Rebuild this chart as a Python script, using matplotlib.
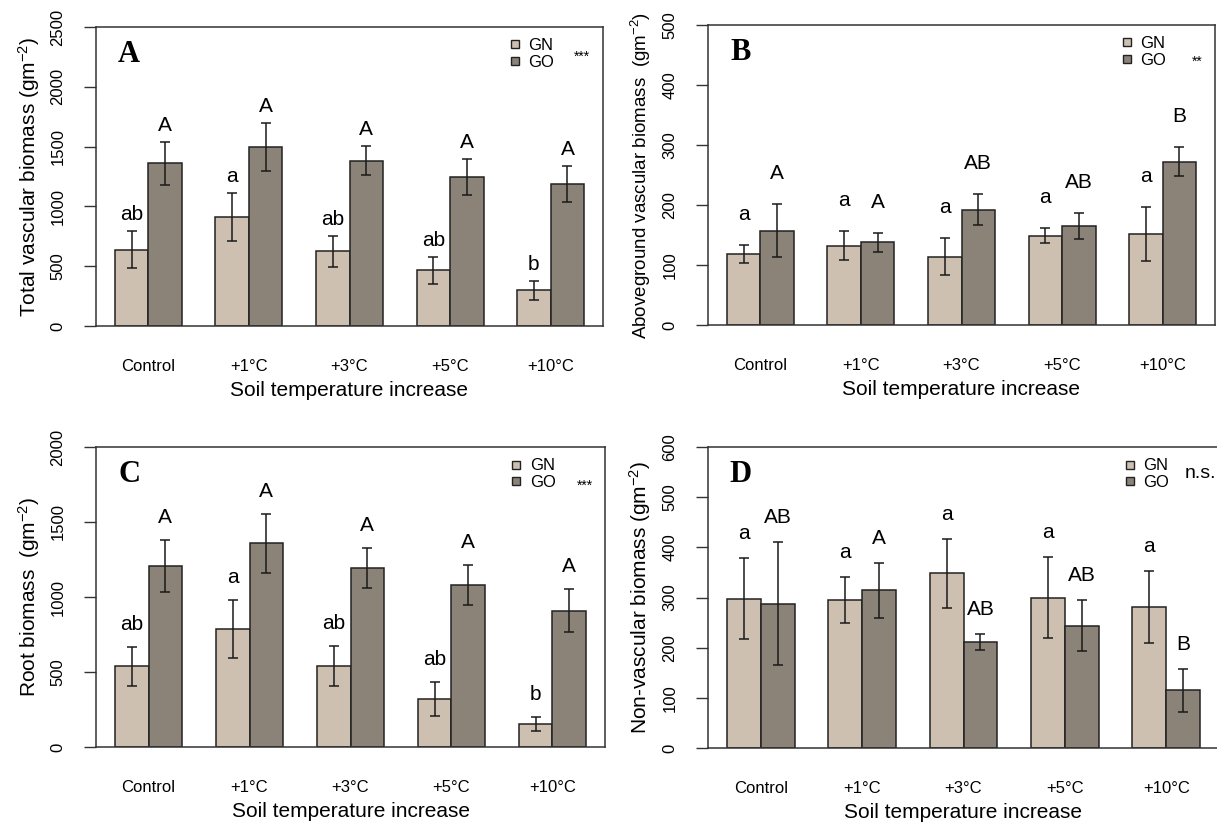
import numpy as np
import matplotlib
matplotlib.use("Agg")
import matplotlib.pyplot as plt
from matplotlib.lines import Line2D

plt.rcParams['font.family'] = ['Liberation Sans', 'DejaVu Sans']
plt.rcParams['mathtext.fontset'] = 'custom'
plt.rcParams['mathtext.rm'] = 'Liberation Sans'
plt.rcParams['mathtext.it'] = 'Liberation Sans:italic'
plt.rcParams['mathtext.default'] = 'regular'

# treatments and the two groups
treatments = ['Control', '+1°C', '+3°C', '+5°C', '+10°C']
groups = ['GN', 'GO']
col_gn = '#cdc0b0'
col_go = '#8b8378'

# A: total vascular biomass (g m-2), mean and SE
total_gn = [637, 913, 626, 466, 299]
total_gn_se = [155, 200, 130, 112, 78]
total_go = [1360, 1494, 1383, 1249, 1184]
total_go_se = [180, 200, 120, 150, 150]
total_gn_lab = ['ab', 'a', 'ab', 'ab', 'b']
total_go_lab = ['A', 'A', 'A', 'A', 'A']

# B: aboveground vascular biomass
above_gn = [119, 132, 114, 149, 152]
above_gn_se = [15, 24, 31, 13, 45]
above_go = [157, 138, 192, 165, 272]
above_go_se = [44, 16, 26, 22, 24]
above_gn_lab = ['a', 'a', 'a', 'a', 'a']
above_go_lab = ['A', 'A', 'AB', 'AB', 'B']

# C: root biomass
root_gn = [537, 785, 543, 321, 153]
root_gn_se = [130, 193, 133, 115, 44]
root_go = [1206, 1357, 1195, 1080, 909]
root_go_se = [175, 197, 133, 133, 142]
root_gn_lab = ['ab', 'a', 'ab', 'ab', 'b']
root_go_lab = ['A', 'A', 'A', 'A', 'A']

# D: non-vascular biomass
nonvasc_gn = [298, 295, 348, 300, 281]
nonvasc_gn_se = [81, 46, 69, 81, 72]
nonvasc_go = [288, 314, 212, 244, 115]
nonvasc_go_se = [122, 54, 16, 51, 43]
nonvasc_gn_lab = ['a', 'a', 'a', 'a', 'a']
nonvasc_go_lab = ['AB', 'A', 'AB', 'AB', 'B']

W, H = 1217, 826
fig = plt.figure(figsize=(W / 100, H / 100), dpi=100)


def px_axes(left, top, right, bottom):
    return fig.add_axes([left / W, 1 - bottom / H, (right - left) / W, (bottom - top) / H])


def panel(ax, gn, gn_se, go, go_se, gn_lab, go_lab, ymax, ystep, ylabel,
          letter, lab_off, ylab_size=15):
    idx = np.arange(len(treatments))
    x_gn = 1.5 + 3 * idx
    x_go = 2.5 + 3 * idx
    ekw = dict(ecolor='#1a1a1a', elinewidth=1.1, capthick=1.1)
    ax.bar(x_gn, gn, width=1, color=col_gn, edgecolor='#222222', linewidth=1.1,
           yerr=gn_se, capsize=3.6, error_kw=ekw, zorder=2)
    ax.bar(x_go, go, width=1, color=col_go, edgecolor='#222222', linewidth=1.1,
           yerr=go_se, capsize=3.6, error_kw=ekw, zorder=2)

    # letters of the post-hoc groupings above each error bar
    for x, m, s, t in zip(np.r_[x_gn, x_go], np.r_[gn, go], np.r_[gn_se, go_se],
                          list(gn_lab) + list(go_lab)):
        ax.annotate(t, xy=(x, m + s), xytext=(0, lab_off), textcoords='offset pixels',
                    ha='center', va='bottom', fontsize=15)

    ax.set_xlim(0.44, 15.56)
    ax.set_ylim(0, ymax)
    ax.set_yticks(np.arange(0, ymax + 1, ystep))
    ax.set_xticks(2 + 3 * idx)
    ax.set_xticklabels(treatments)
    ax.tick_params(axis='x', length=0, pad=24, labelsize=12)
    ax.tick_params(axis='y', length=9, width=1.0, color='#333333', pad=13,
                   labelsize=12, labelrotation=90)
    for t in ax.get_yticklabels():
        t.set_va('center')
    for sp in ax.spines.values():
        sp.set_color('#333333')
        sp.set_linewidth(1.1)

    ax.set_xlabel('Soil temperature increase', fontsize=15)
    ax.xaxis.set_label_coords(0.5, -0.215)
    ax.xaxis.label.set_va('center')
    ax.set_ylabel(ylabel, fontsize=ylab_size)
    ax.yaxis.set_label_coords(-0.132, 0.5)
    ax.yaxis.label.set_va('center')

    ax.annotate(letter, xy=(0, 1), xycoords='axes fraction', xytext=(33, -35),
                textcoords='offset pixels', ha='center', va='baseline',
                fontsize=22, fontweight='bold', family='Liberation Serif')

    handles = [Line2D([], [], linestyle='none', marker='s', markersize=5.5,
                      markerfacecolor=c, markeredgecolor='#222222', markeredgewidth=1.0)
               for c in (col_gn, col_go)]
    ax.legend(handles, groups, loc='center left', bbox_to_anchor=(0.813, 0.91),
              frameon=False, fontsize=12, handlelength=0.8, handletextpad=0.4,
              labelspacing=0.08, borderpad=0, borderaxespad=0)


axA = px_axes(96, 27, 603, 326)
panel(axA, total_gn, total_gn_se, total_go, total_go_se, total_gn_lab, total_go_lab,
      2500, 500, 'Total vascular biomass (gm$^{-2}$)', 'A', 7)

axB = px_axes(708, 25, 1215, 325)
panel(axB, above_gn, above_gn_se, above_go, above_go_se, above_gn_lab, above_go_lab,
      500, 100, 'Aboveground vascular biomass  (gm$^{-2}$)', 'B', 21, ylab_size=13.5)

axC = px_axes(96, 447, 605, 747)
panel(axC, root_gn, root_gn_se, root_go, root_go_se, root_gn_lab, root_go_lab,
      2000, 500, 'Root biomass  (gm$^{-2}$)', 'C', 13)

axD = px_axes(708, 447, 1219, 748)
panel(axD, nonvasc_gn, nonvasc_gn_se, nonvasc_go, nonvasc_go_se, nonvasc_gn_lab,
      nonvasc_go_lab, 600, 100, 'Non-vascular biomass (gm$^{-2}$)', 'D', 15)

# significance marks next to the legends
fig.text(582 / W, 1 - 61 / H, '***', ha='center', va='baseline', fontsize=10)
fig.text(1197 / W, 1 - 66 / H, '**', ha='center', va='baseline', fontsize=10)
fig.text(585 / W, 1 - 490 / H, '***', ha='center', va='baseline', fontsize=10)
fig.text(1200 / W, 1 - 478 / H, 'n.s.', ha='center', va='baseline', fontsize=14)

fig.savefig('out.png', dpi=100)
